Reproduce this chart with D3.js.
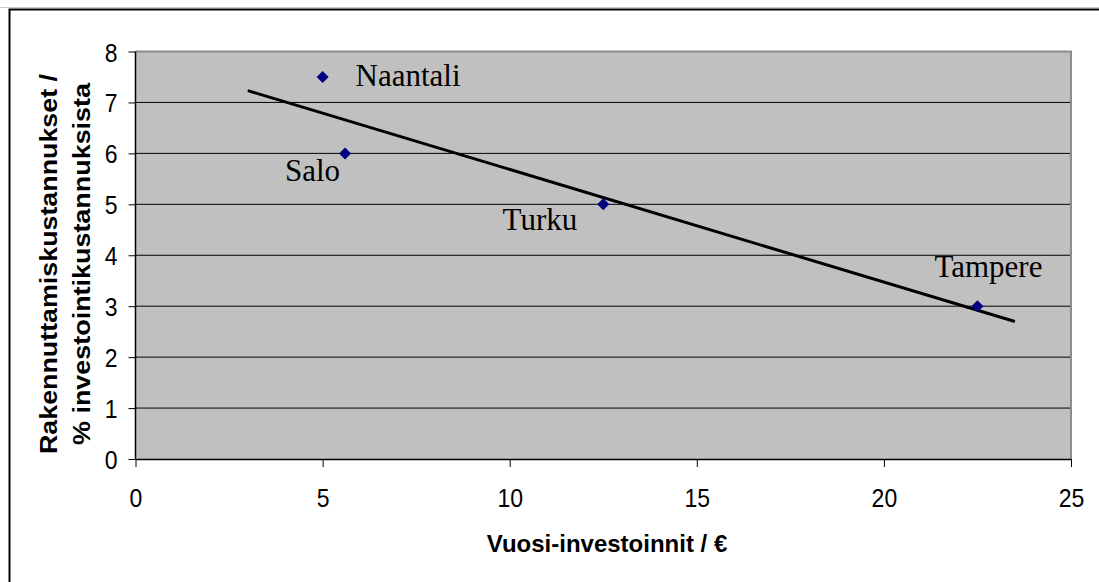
<!DOCTYPE html>
<html>
<head>
<meta charset="utf-8">
<script src="https://cdnjs.cloudflare.com/ajax/libs/d3/7.8.5/d3.min.js"></script>
<style>
  html, body { margin: 0; padding: 0; background: #fff; }
  svg { display: block; }
</style>
</head>
<body>
<div id="chart"></div>
<script>
// Data
const cities = ["Naantali", "Salo", "Turku", "Tampere"];
const investments = [5, 5.6, 12.5, 22.5];
const costShares = [7.5, 6, 5, 3];
const xTicks = [0, 5, 10, 15, 20, 25];
const yTicks = [0, 1, 2, 3, 4, 5, 6, 7, 8];
const trendRange = [3, 23.5];

function drawChart() {
    const width = 1099, height = 582;
    const plot = { left: 135.5, right: 1071, top: 51.5, bottom: 459 };

    const svg = d3.select("#chart")
        .append("svg")
        .attr("width", width)
        .attr("height", height);

    // chart frame (runs off the right and bottom edges)
    svg.append("line")
        .attr("x1", 0).attr("x2", width)
        .attr("y1", 7.5).attr("y2", 7.5)
        .attr("stroke", "#c8c8c8").attr("stroke-width", 1);
    svg.append("rect")
        .attr("x", 9.5).attr("y", 9.5)
        .attr("width", width + 20).attr("height", height + 20)
        .attr("fill", "none")
        .attr("stroke", "#000").attr("stroke-width", 2);

    const x = d3.scaleLinear().domain([0, 25]).range([plot.left, plot.right]);
    const y = d3.scaleLinear().domain([0, 8]).range([plot.bottom, plot.top]);

    // plot background
    svg.append("rect")
        .attr("x", plot.left).attr("y", plot.top)
        .attr("width", plot.right - plot.left)
        .attr("height", plot.bottom - plot.top)
        .attr("fill", "#c0c0c0");

    // gridlines
    svg.append("g")
        .selectAll("line")
        .data(yTicks.filter(d => d > 0 && d < 8))
        .join("line")
        .attr("x1", plot.left).attr("x2", plot.right)
        .attr("y1", d => y(d)).attr("y2", d => y(d))
        .attr("stroke", "#000").attr("stroke-width", 1);

    // plot border top / right
    svg.append("path")
        .attr("d", `M${plot.left},${plot.top}H${plot.right}V${plot.bottom}`)
        .attr("fill", "none")
        .attr("stroke", "#8c8c8c").attr("stroke-width", 2);

    // axes
    const yAxis = svg.append("g")
        .attr("transform", `translate(${plot.left},0)`)
        .call(d3.axisLeft(y).tickValues(yTicks).tickSize(7).tickPadding(11));
    const xAxis = svg.append("g")
        .attr("transform", `translate(0,${plot.bottom})`)
        .call(d3.axisBottom(x).tickValues(xTicks).tickSize(8).tickSizeOuter(0));

    [yAxis, xAxis].forEach(a => {
        a.select(".domain").attr("stroke", "#000").attr("stroke-width", 1.5);
        a.selectAll(".tick line").attr("stroke", "#000").attr("stroke-width", 1);
        a.selectAll("text")
            .attr("fill", "#000")
            .style("font-family", "Arial, 'Liberation Sans', sans-serif")
            .style("font-size", "23px");
    });
    yAxis.select(".domain").attr("d", `M0,${plot.top}V${plot.bottom}`);
    // tick labels are a little stretched vertically in the original
    yAxis.selectAll("text")
        .attr("dy", 0)
        .attr("transform", "translate(0,9.5) scale(1,1.15)");
    xAxis.selectAll("text")
        .attr("y", 0).attr("dy", 0)
        .attr("transform", "translate(0,48) scale(1,1.15)");

    // trendline (least squares)
    const n = investments.length;
    const mx = d3.mean(investments), my = d3.mean(costShares);
    let sxy = 0, sxx = 0;
    for (let i = 0; i < n; i++) {
        sxy += (investments[i] - mx) * (costShares[i] - my);
        sxx += (investments[i] - mx) ** 2;
    }
    const slope = sxy / sxx, intercept = my - slope * mx;

    svg.append("line")
        .attr("x1", x(trendRange[0])).attr("y1", y(intercept + slope * trendRange[0]))
        .attr("x2", x(trendRange[1])).attr("y2", y(intercept + slope * trendRange[1]))
        .attr("stroke", "#000").attr("stroke-width", 3);

    const points = cities.map((c, i) => ({ city: c, inv: investments[i], share: costShares[i] }));

    // diamonds
    svg.append("g")
        .selectAll("path")
        .data(points)
        .join("path")
        .attr("transform", d => `translate(${x(d.inv)},${y(d.share)})`)
        .attr("d", "M0,-6L6,0L0,6L-6,0Z")
        .attr("fill", "#000080");

    // data labels
    const labelOffsets = {
        Naantali: { dx: 33, dy: 9, anchor: "start" },
        Salo: { dx: -5, dy: 28, anchor: "end" },
        Turku: { dx: -26, dy: 26, anchor: "end" },
        Tampere: { dx: 11, dy: -29, anchor: "middle" }
    };
    svg.append("g")
        .selectAll("text")
        .data(points)
        .join("text")
        .attr("x", d => x(d.inv) + labelOffsets[d.city].dx)
        .attr("y", d => y(d.share) + labelOffsets[d.city].dy)
        .attr("text-anchor", d => labelOffsets[d.city].anchor)
        .style("font-family", "'Liberation Serif', 'Times New Roman', serif")
        .style("font-size", "31px")
        .attr("fill", "#000")
        .text(d => d.city);

    // axis titles
    svg.append("text")
        .attr("x", 607).attr("y", 552)
        .attr("text-anchor", "middle")
        .style("font-family", "Arial, 'Liberation Sans', sans-serif")
        .style("font-size", "24px")
        .style("font-weight", "bold")
        .text("Vuosi-investoinnit / €");

    const yTitle = svg.append("text")
        .attr("transform", "translate(0,264) rotate(-90)")
        .attr("text-anchor", "middle")
        .style("font-family", "Arial, 'Liberation Sans', sans-serif")
        .style("font-size", "23px")
        .style("font-weight", "bold");
    yTitle.append("tspan")
        .attr("x", 0).attr("y", 57)
        .attr("textLength", 380).attr("lengthAdjust", "spacingAndGlyphs")
        .text("Rakennuttamiskustannukset /");
    yTitle.append("tspan")
        .attr("x", 0).attr("y", 90)
        .attr("textLength", 362).attr("lengthAdjust", "spacingAndGlyphs")
        .text("% investointikustannuksista");
}

document.addEventListener("DOMContentLoaded", drawChart);
</script>
</body>
</html>
